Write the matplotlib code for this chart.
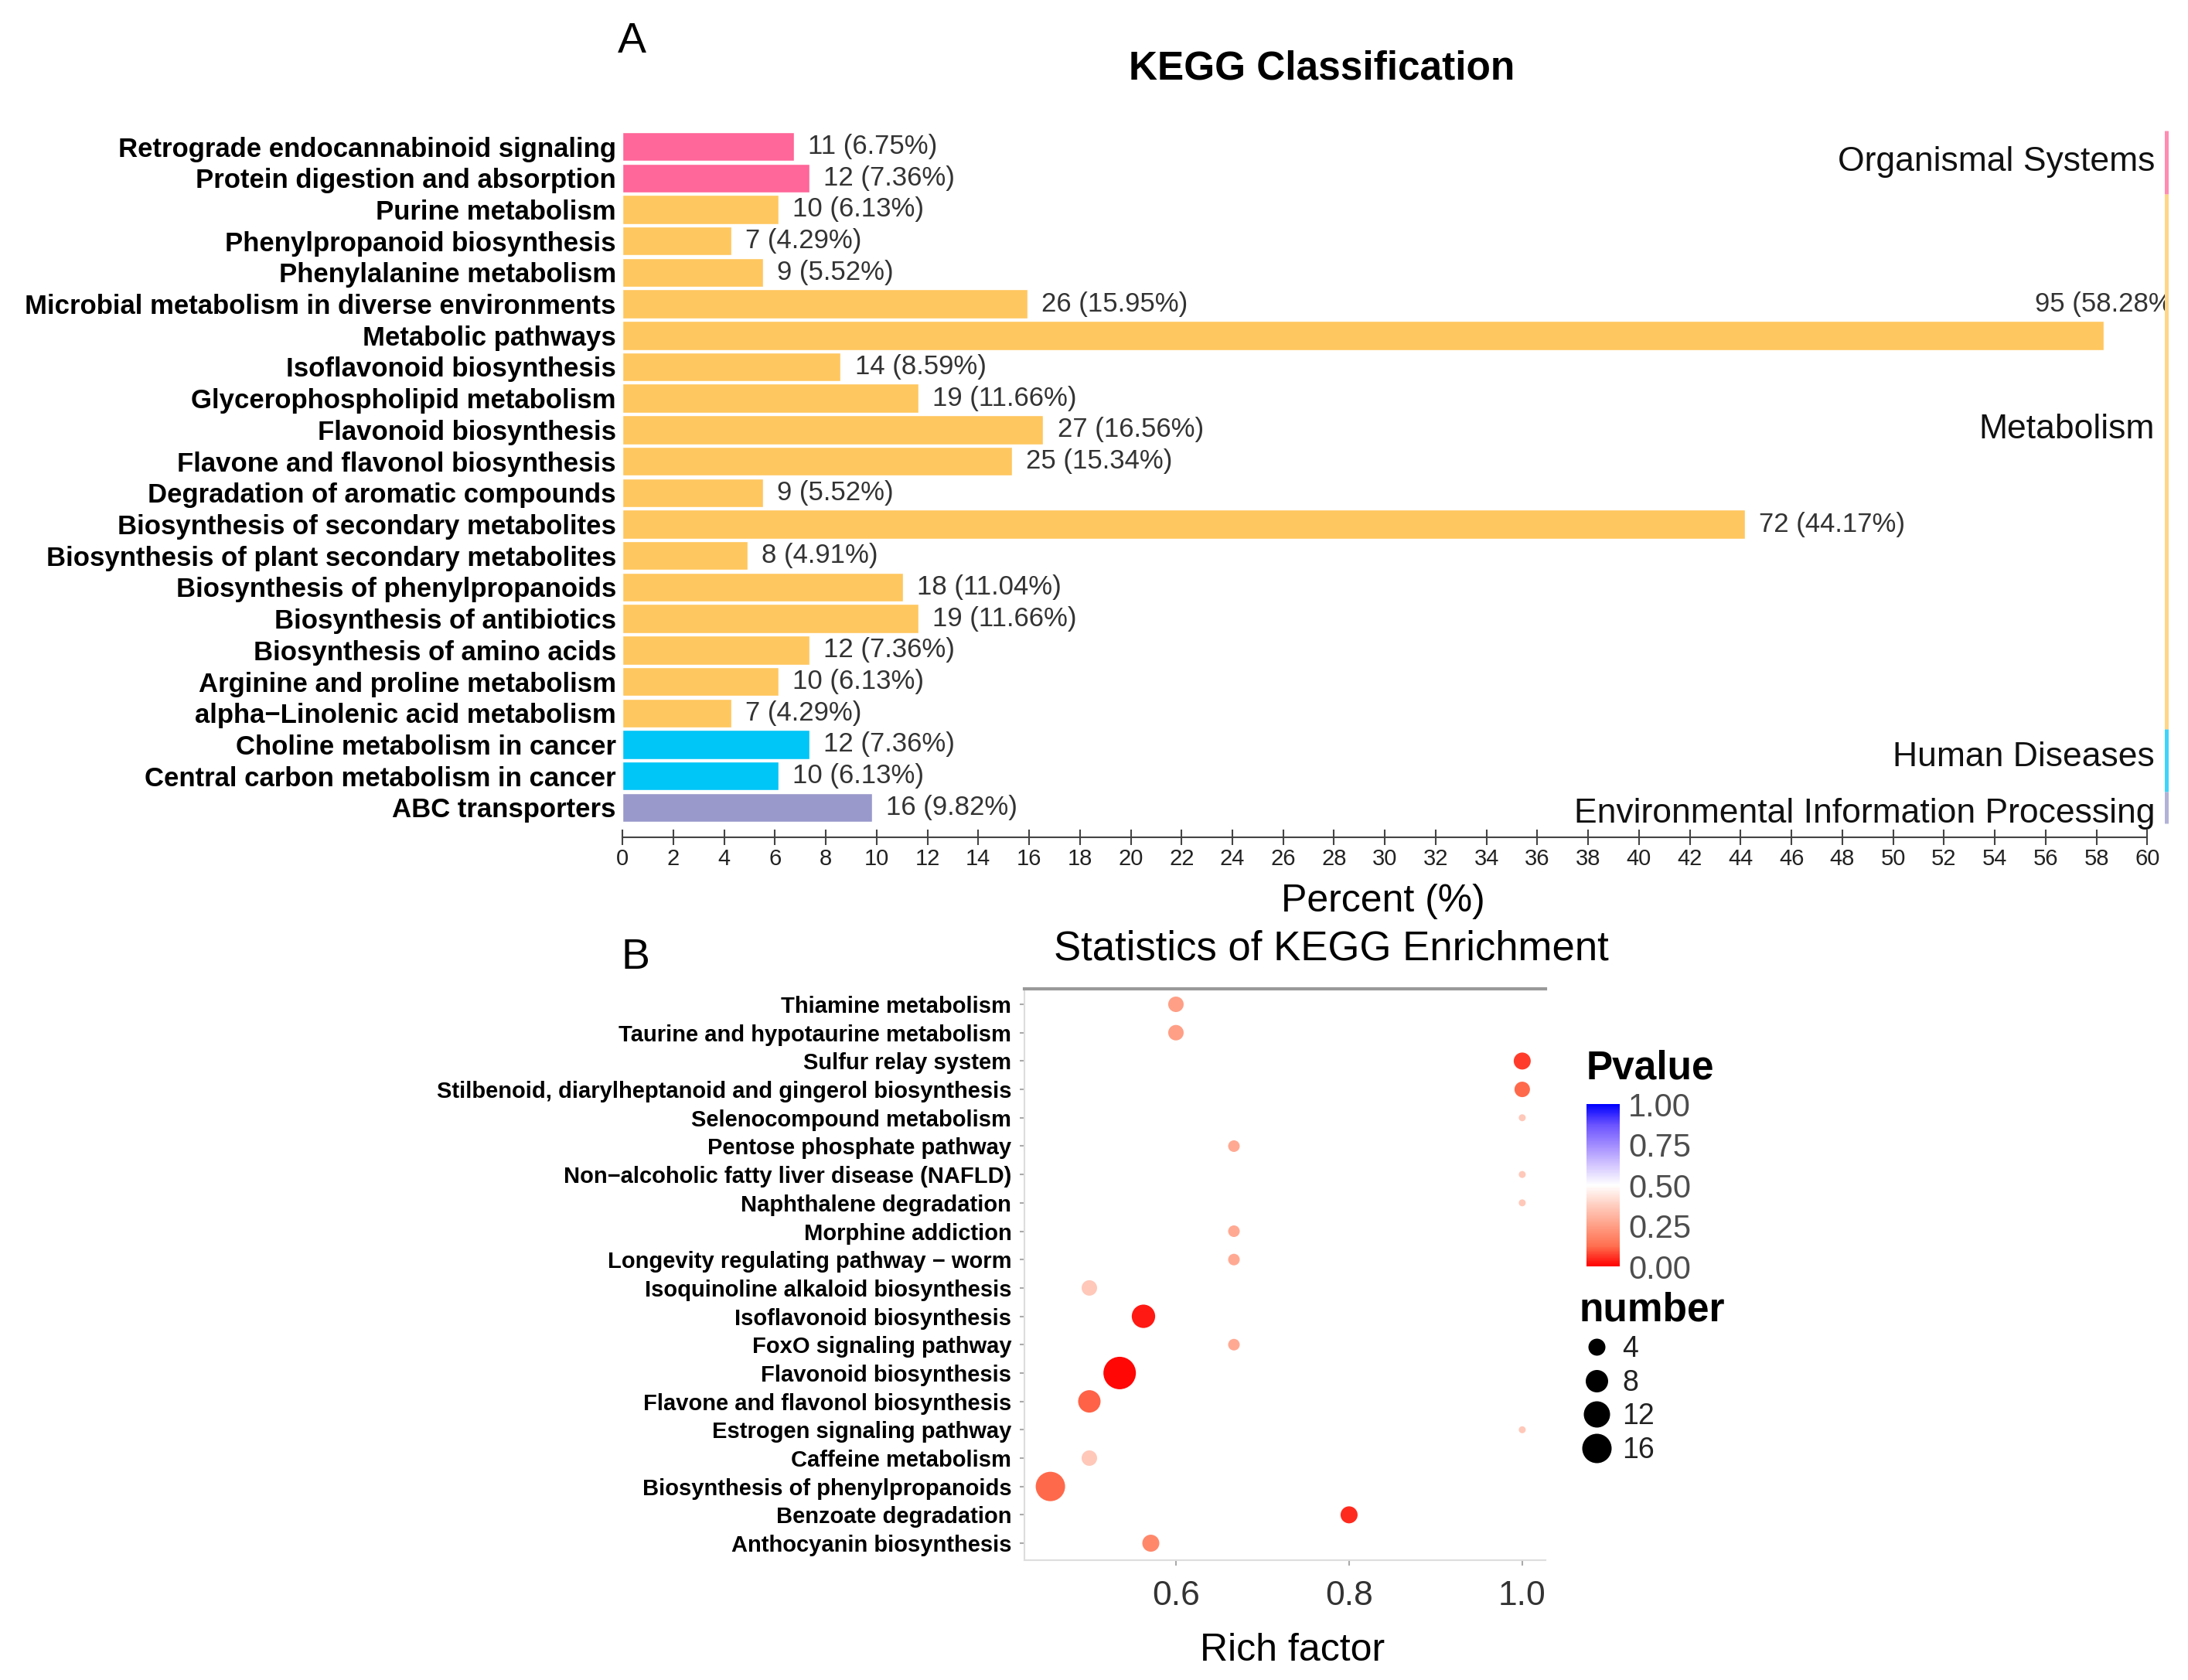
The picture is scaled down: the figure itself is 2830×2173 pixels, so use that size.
import numpy as np
import matplotlib.pyplot as plt
from matplotlib.colors import LinearSegmentedColormap
from matplotlib.lines import Line2D

plt.rcParams['font.family'] = ['Liberation Sans', 'DejaVu Sans']

# ---------------- Panel A: KEGG classification (top to bottom) ----------------
kegg_terms = [
    'Retrograde endocannabinoid signaling', 'Protein digestion and absorption',
    'Purine metabolism', 'Phenylpropanoid biosynthesis', 'Phenylalanine metabolism',
    'Microbial metabolism in diverse environments', 'Metabolic pathways',
    'Isoflavonoid biosynthesis', 'Glycerophospholipid metabolism',
    'Flavonoid biosynthesis', 'Flavone and flavonol biosynthesis',
    'Degradation of aromatic compounds', 'Biosynthesis of secondary metabolites',
    'Biosynthesis of plant secondary metabolites', 'Biosynthesis of phenylpropanoids',
    'Biosynthesis of antibiotics', 'Biosynthesis of amino acids',
    'Arginine and proline metabolism', 'alpha\u2212Linolenic acid metabolism',
    'Choline metabolism in cancer', 'Central carbon metabolism in cancer',
    'ABC transporters']
kegg_counts = [11, 12, 10, 7, 9, 26, 95, 14, 19, 27, 25, 9, 72, 8, 18, 19, 12, 10, 7, 12, 10, 16]
kegg_percent = [6.75, 7.36, 6.13, 4.29, 5.52, 15.95, 58.28, 8.59, 11.66, 16.56, 15.34,
                5.52, 44.17, 4.91, 11.04, 11.66, 7.36, 6.13, 4.29, 7.36, 6.13, 9.82]
kegg_class = (['Organismal Systems'] * 2 + ['Metabolism'] * 17 +
              ['Human Diseases'] * 2 + ['Environmental Information Processing'])
class_order = ['Organismal Systems', 'Metabolism', 'Human Diseases',
               'Environmental Information Processing']
class_colors = ['#FF6699', '#FFC75F', '#00C5F7', '#9999CC']
class_label_nudge = [0, -1.0, -0.1, 0.2]

# ---------------- Panel B: KEGG enrichment ----------------
enrich_terms = [
    'Thiamine metabolism', 'Taurine and hypotaurine metabolism', 'Sulfur relay system',
    'Stilbenoid, diarylheptanoid and gingerol biosynthesis', 'Selenocompound metabolism',
    'Pentose phosphate pathway', 'Non\u2212alcoholic fatty liver disease (NAFLD)',
    'Naphthalene degradation', 'Morphine addiction',
    'Longevity regulating pathway \u2212 worm', 'Isoquinoline alkaloid biosynthesis',
    'Isoflavonoid biosynthesis', 'FoxO signaling pathway', 'Flavonoid biosynthesis',
    'Flavone and flavonol biosynthesis', 'Estrogen signaling pathway',
    'Caffeine metabolism', 'Biosynthesis of phenylpropanoids', 'Benzoate degradation',
    'Anthocyanin biosynthesis']
rich_factor = [0.60, 0.60, 1.00, 1.00, 1.00, 0.667, 1.00, 1.00, 0.667, 0.667,
               0.50, 0.5625, 0.667, 0.535, 0.50, 1.00, 0.50, 0.455, 0.80, 0.571]
gene_number = [3, 3, 4, 3, 1, 2, 1, 1, 2, 2, 3, 9, 2, 18, 8, 1, 3, 16, 4, 4]
p_value = [0.25, 0.25, 0.07, 0.12, 0.36, 0.28, 0.36, 0.36, 0.28, 0.28,
           0.36, 0.03, 0.28, 0.01, 0.11, 0.36, 0.36, 0.12, 0.05, 0.19]
size_breaks = [4, 8, 12, 16]

# size scale: gene number -> marker diameter (px)
size_n = [1, 2, 3, 4, 8, 12, 16, 18]
size_px = [9, 15, 20, 22, 29, 34, 38, 42]

pv_cmap = LinearSegmentedColormap.from_list('pv', [
    (0.0, '#FF0000'), (0.125, '#FF7050'), (0.25, '#FF9F86'), (0.375, '#FFCDBF'),
    (0.5, '#FFFFFF'), (0.625, '#D3C6FF'), (0.75, '#A18BFF'), (0.875, '#6A52FF'),
    (1.0, '#0000FF')])

fig = plt.figure(figsize=(28.3, 21.73), dpi=100)

# =========================== Panel A ===========================
ax_a = fig.add_axes([0.2845, 0.5016, 0.7050, 0.4224])
ypos = np.arange(len(kegg_terms))
bar_colors = [class_colors[class_order.index(c)] for c in kegg_class]
ax_a.barh(ypos, kegg_percent, height=0.92, color=bar_colors, edgecolor='white', linewidth=1)
ax_a.set_xlim(0, 60.7)
ax_a.set_ylim(21.95, -0.6)

ax_a.set_yticks(ypos)
ax_a.set_yticklabels(kegg_terms, fontsize=25, fontweight='bold')
ax_a.tick_params(axis='y', length=0, pad=6)
ax_a.set_xticks(np.arange(0, 61, 2))
ax_a.tick_params(axis='x', direction='inout', length=14, width=1.5, labelsize=21,
                 pad=3, color='#444444', labelcolor='#222222')
for s in ['top', 'right', 'left']:
    ax_a.spines[s].set_visible(False)
ax_a.spines['bottom'].set_bounds(0, 60)
ax_a.spines['bottom'].set_color('#444444')
ax_a.spines['bottom'].set_linewidth(1.5)

# value labels (the longest one is lifted and cut at the panel edge)
top_val = max(kegg_percent)
for y, n, p in zip(ypos, kegg_counts, kegg_percent):
    txt = f'{n} ({p:.2f}%)'
    if p == top_val:
        ax_a.text(p - 2.7, y - 1, txt, ha='left', va='center', fontsize=25,
                  color='#333333', clip_on=True)
    else:
        ax_a.text(p + 0.55, y, txt, ha='left', va='center', fontsize=25, color='#333333')

# class strips on the right
for cname, ccol, nudge in zip(class_order, class_colors, class_label_nudge):
    rows = [i for i, c in enumerate(kegg_class) if c == cname]
    ax_a.plot([60.75, 60.75], [rows[0] - 0.5, rows[-1] + 0.5], color=ccol, lw=3.6,
              alpha=0.75, clip_on=False, solid_capstyle='butt')
    ax_a.text(60.3, (rows[0] + rows[-1]) / 2 + nudge, cname, ha='right', va='center',
              fontsize=32, color='#111111', clip_on=False)

fig.text(0.289, 0.975, 'A', fontsize=40, ha='center', va='center')
fig.text(0.604, 0.959, 'KEGG Classification', fontsize=37, fontweight='bold',
         ha='center', va='center')
fig.text(0.632, 0.4634, 'Percent (%)', fontsize=36, ha='center', va='center')

# =========================== Panel B ===========================
ax_b = fig.add_axes([0.4682, 0.0713, 0.2382, 0.3401])
yb = np.arange(len(enrich_terms))
diam = np.interp(gene_number, size_n, size_px) * 0.72
sc = ax_b.scatter(rich_factor, yb, s=diam ** 2, c=p_value, cmap=pv_cmap, vmin=0, vmax=1,
                  edgecolors='none', zorder=3)
ax_b.set_xlim(0.425, 1.027)
ax_b.set_ylim(19.6, -0.545)
ax_b.set_yticks(yb)
ax_b.set_yticklabels(enrich_terms, fontsize=21, fontweight='bold')
ax_b.tick_params(axis='y', length=4, width=1.5, color='#AAAAAA', pad=8)
ax_b.set_xticks([0.6, 0.8, 1.0])
ax_b.set_xticklabels(['0.6', '0.8', '1.0'])
ax_b.tick_params(axis='x', length=5, width=1.5, color='#AAAAAA', labelsize=32,
                 labelcolor='#333333', pad=14)
ax_b.spines['right'].set_visible(False)
ax_b.spines['top'].set_color('#999999')
ax_b.spines['top'].set_linewidth(3)
for s in ['left', 'bottom']:
    ax_b.spines[s].set_color('#DDDDDD')
    ax_b.spines[s].set_linewidth(1.5)

fig.text(0.2905, 0.4298, 'B', fontsize=40, ha='center', va='center')
fig.text(0.6085, 0.4349, 'Statistics of KEGG Enrichment', fontsize=38,
         ha='center', va='center')
fig.text(0.5905, 0.0175, 'Rich factor', fontsize=36, ha='center', va='center')

# colour bar
fig.text(0.7251, 0.364, 'Pvalue', fontsize=37, fontweight='bold', ha='left', va='center')
cax = fig.add_axes([0.7251, 0.2462, 0.0152, 0.0966])
cb = fig.colorbar(sc, cax=cax, ticks=[0, 0.25, 0.5, 0.75, 1.0])
cb.ax.set_yticklabels(['0.00', '0.25', '0.50', '0.75', '1.00'])
cb.outline.set_visible(False)
cb.ax.tick_params(length=0, labelsize=30, labelcolor='#4D4D4D', pad=8)

# size legend
handles = [Line2D([], [], marker='o', linestyle='none',
                  markersize=np.interp(n, size_n, size_px) * 0.72,
                  markerfacecolor='black', markeredgecolor='none') for n in size_breaks]
leg = ax_b.legend(handles, [str(n) for n in size_breaks], title='number',
                  loc='upper left', bbox_to_anchor=(0.7150, 1 - 1652 / 2173),
                  bbox_transform=fig.transFigure, frameon=False, fontsize=27,
                  title_fontproperties={'weight': 'bold', 'size': 37},
                  labelspacing=0.2, handletextpad=0.3, borderpad=0, handlelength=1.2)
leg._legend_box.align = 'left'
for t in leg.get_texts():
    t.set_color('#222222')

fig.savefig('out.png', dpi=100)
